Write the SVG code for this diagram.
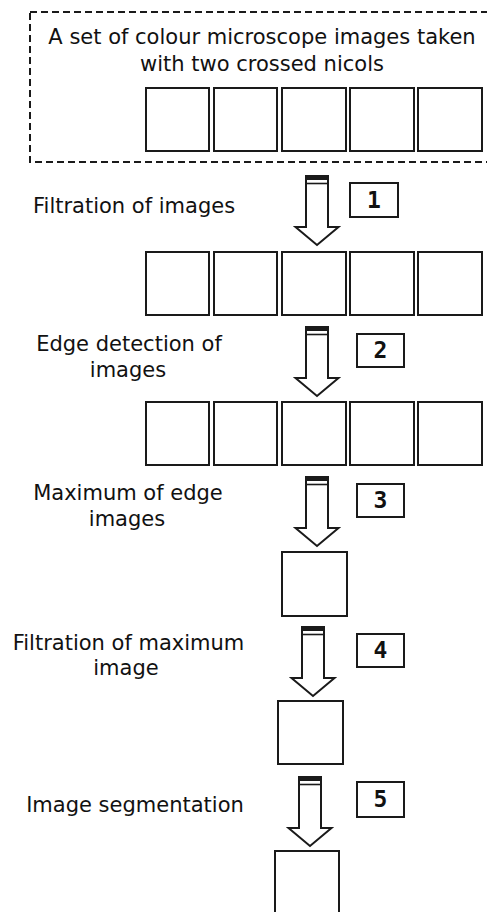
<svg xmlns="http://www.w3.org/2000/svg" width="487" height="912" viewBox="0 0 487 912">
<style>
.lbl{font-family:"DejaVu Sans","Liberation Sans",sans-serif;font-size:21px;fill:#111}
.img{fill:#fff;stroke:#1a1a1a;stroke-width:2}
.num{fill:#fff;stroke:#1a1a1a;stroke-width:2}
.numt{font-family:"DejaVu Sans Mono","Liberation Mono",monospace;font-size:23px;font-weight:bold;fill:#111;text-anchor:middle}
.dash{fill:none;stroke:#1a1a1a;stroke-width:2;stroke-dasharray:7 4}
</style>
<defs>
<g id="arrow">
<path d="M-11,0 L11,0 L11,51 L21.5,51 L0,69 L-21.5,51 L-11,51 Z" fill="#fff" stroke="#1a1a1a" stroke-width="2" stroke-linejoin="miter"/>
<rect x="-11" y="0" width="22" height="4" fill="#1a1a1a"/>
<line x1="-11" y1="7.5" x2="11" y2="7.5" stroke="#1a1a1a" stroke-width="1.6"/>
</g>
</defs>

<g id="input">
<rect class="dash" x="30" y="12" width="470" height="150"/>
<text class="lbl" x="262" y="44" text-anchor="middle">A set of colour microscope images taken</text>
<text class="lbl" x="262" y="71" text-anchor="middle">with two crossed nicols</text>
<rect class="img" x="146" y="88" width="63" height="63"/>
<rect class="img" x="214" y="88" width="63" height="63"/>
<rect class="img" x="282" y="88" width="64" height="63"/>
<rect class="img" x="350" y="88" width="64" height="63"/>
<rect class="img" x="418" y="88" width="64" height="63"/>
</g>

<g id="filtered">
<rect class="img" x="146" y="252" width="63" height="63"/>
<rect class="img" x="214" y="252" width="63" height="63"/>
<rect class="img" x="282" y="252" width="64" height="63"/>
<rect class="img" x="350" y="252" width="64" height="63"/>
<rect class="img" x="418" y="252" width="64" height="63"/>
</g>

<g id="edges">
<rect class="img" x="146" y="402" width="63" height="63"/>
<rect class="img" x="214" y="402" width="63" height="63"/>
<rect class="img" x="282" y="402" width="64" height="63"/>
<rect class="img" x="350" y="402" width="64" height="63"/>
<rect class="img" x="418" y="402" width="64" height="63"/>
</g>

<g id="maximum">
<rect class="img" x="282" y="552" width="65" height="64"/>
</g>

<g id="filtered-maximum">
<rect class="img" x="278" y="701" width="65" height="63"/>
</g>

<g id="segmented">
<rect class="img" x="275" y="851" width="64" height="70"/>
</g>

<g id="connectors">
<use href="#arrow" transform="translate(317,176)"/>
<use href="#arrow" transform="translate(317,327)"/>
<use href="#arrow" transform="translate(317,477)"/>
<use href="#arrow" transform="translate(313,627)"/>
<use href="#arrow" transform="translate(310,777)"/>
</g>

<g id="step1">
<text class="lbl" x="33" y="213">Filtration of images</text>
<rect class="num" x="350" y="183" width="48" height="34"/>
<text class="numt" x="374" y="208">1</text>
</g>

<g id="step2">
<text class="lbl" x="129" y="351" text-anchor="middle">Edge detection of</text>
<text class="lbl" x="128" y="377" text-anchor="middle">images</text>
<rect class="num" x="357" y="334" width="47" height="33"/>
<text class="numt" x="380.5" y="358">2</text>
</g>

<g id="step3">
<text class="lbl" x="128" y="500" text-anchor="middle">Maximum of edge</text>
<text class="lbl" x="127" y="526" text-anchor="middle">images</text>
<rect class="num" x="357" y="484" width="47" height="33"/>
<text class="numt" x="380.5" y="508">3</text>
</g>

<g id="step4">
<text class="lbl" x="128.5" y="650" text-anchor="middle">Filtration of maximum</text>
<text class="lbl" x="126" y="675" text-anchor="middle">image</text>
<rect class="num" x="357" y="634" width="47" height="33"/>
<text class="numt" x="380.5" y="658">4</text>
</g>

<g id="step5">
<text class="lbl" x="135" y="812" text-anchor="middle">Image segmentation</text>
<rect class="num" x="357" y="782" width="47" height="35"/>
<text class="numt" x="380.5" y="807">5</text>
</g>
</svg>
